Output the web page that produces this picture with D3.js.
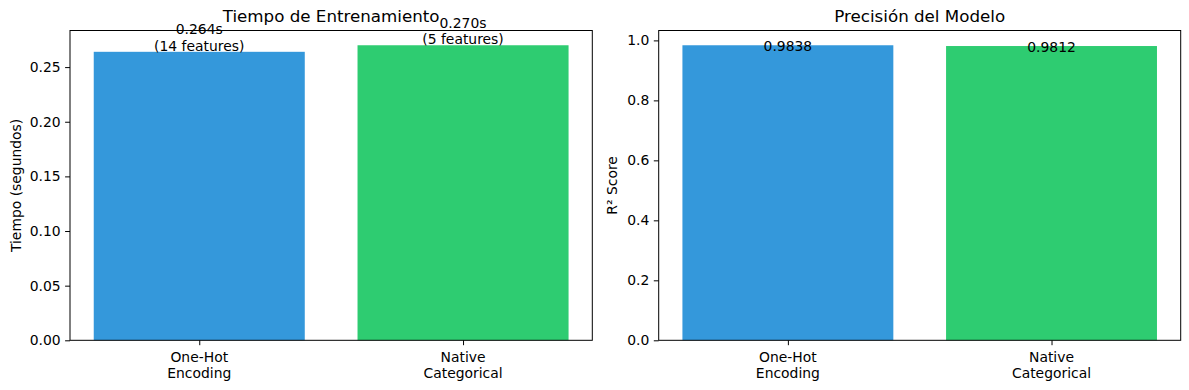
<!DOCTYPE html>
<html><head><meta charset="utf-8">
<script src="https://cdn.jsdelivr.net/npm/d3@7"></script>
<style>body{margin:0;background:#fff}svg{display:block}text{font-family:"DejaVu Sans",sans-serif;fill:#000}</style>
</head><body>
<svg id="c" width="1189" height="390"></svg>
<script>
const categories = ["One-Hot\nEncoding", "Native\nCategorical"];
const colors = ["#3498db", "#2ecc71"];
const trainTime = [0.264, 0.270];
const featureCounts = [14, 5];
const r2Scores = [0.9838, 0.9812];
const timeTicks = [0, 0.05, 0.10, 0.15, 0.20, 0.25];
const r2Ticks = [0, 0.2, 0.4, 0.6, 0.8, 1.0];

const svg = d3.select("#c");
const axTop = 30.5, axBottom = 340.3;

function panel(o) {
  const g = svg.append("g");
  const x = d3.scaleLinear().domain([-0.49, 1.49]).range([o.x0, o.x1]);
  const y = d3.scaleLinear().domain([0, d3.max(o.values) * 1.05]).range([axBottom, axTop]);
  g.selectAll("rect.bar").data(o.values).enter().append("rect")
    .attr("x", (d, i) => x(i - 0.4)).attr("width", (d, i) => x(i + 0.4) - x(i - 0.4))
    .attr("y", d => y(d)).attr("height", d => axBottom - y(d))
    .attr("fill", (d, i) => colors[i]);
  g.append("rect").attr("x", o.x0).attr("y", axTop).attr("width", o.x1 - o.x0).attr("height", axBottom - axTop)
    .attr("fill", "none").attr("stroke", "#000").attr("stroke-width", 1);
  const ya = d3.axisLeft(y).tickValues(o.ticks).tickFormat(o.fmt).tickSize(4.9).tickPadding(4.5);
  const yg = g.append("g").attr("transform", `translate(${o.x0},0)`).call(ya);
  yg.select(".domain").remove();
  yg.selectAll("text").style("font-size", "13.9px").style("font-family", "DejaVu Sans");
  yg.selectAll("line").attr("stroke", "#000");
  const xa = d3.axisBottom(x).tickValues([0, 1]).tickFormat("").tickSize(4.9);
  const xg = g.append("g").attr("transform", `translate(0,${axBottom})`).call(xa);
  xg.select(".domain").remove();
  xg.selectAll("line").attr("stroke", "#000");
  categories.forEach((c, i) => {
    const t = g.append("text").attr("text-anchor", "middle").style("font-size", "13.9px");
    c.split("\n").forEach((ln, k) => {
      t.append("tspan").attr("x", x(i)).attr("y", axBottom + 21.5 + k * 16).text(ln);
    });
  });
  g.append("text").attr("x", (o.x0 + o.x1) / 2).attr("y", axTop - 8.3)
    .attr("text-anchor", "middle").style("font-size", "16.7px").text(o.title);
  g.append("text").attr("transform", `translate(${o.ylx},${(axTop + axBottom) / 2}) rotate(-90)`)
    .attr("text-anchor", "middle").style("font-size", "13.9px").text(o.ylabel);
  o.values.forEach((v, i) => {
    const lines = o.label(v, i);
    const t = g.append("text").attr("text-anchor", "middle").style("font-size", "13.9px");
    lines.forEach((ln, k) => {
      t.append("tspan").attr("x", x(i)).attr("y", y(v) + o.labelOffset - (lines.length - 1 - k) * 16.6).text(ln);
    });
  });
}

panel({x0: 70, x1: 592.3, values: trainTime, ticks: timeTicks, fmt: d3.format(".2f"),
  title: "Tiempo de Entrenamiento", ylabel: "Tiempo (segundos)", ylx: 21,
  label: (v, i) => [v.toFixed(3) + "s", "(" + featureCounts[i] + " features)"], labelOffset: -1});
panel({x0: 658.7, x1: 1180.7, values: r2Scores, ticks: r2Ticks, fmt: d3.format(".1f"),
  title: "Precisión del Modelo", ylabel: "R² Score", ylx: 617,
  label: (v) => [v.toFixed(4)], labelOffset: 6});
</script>
</body></html>
